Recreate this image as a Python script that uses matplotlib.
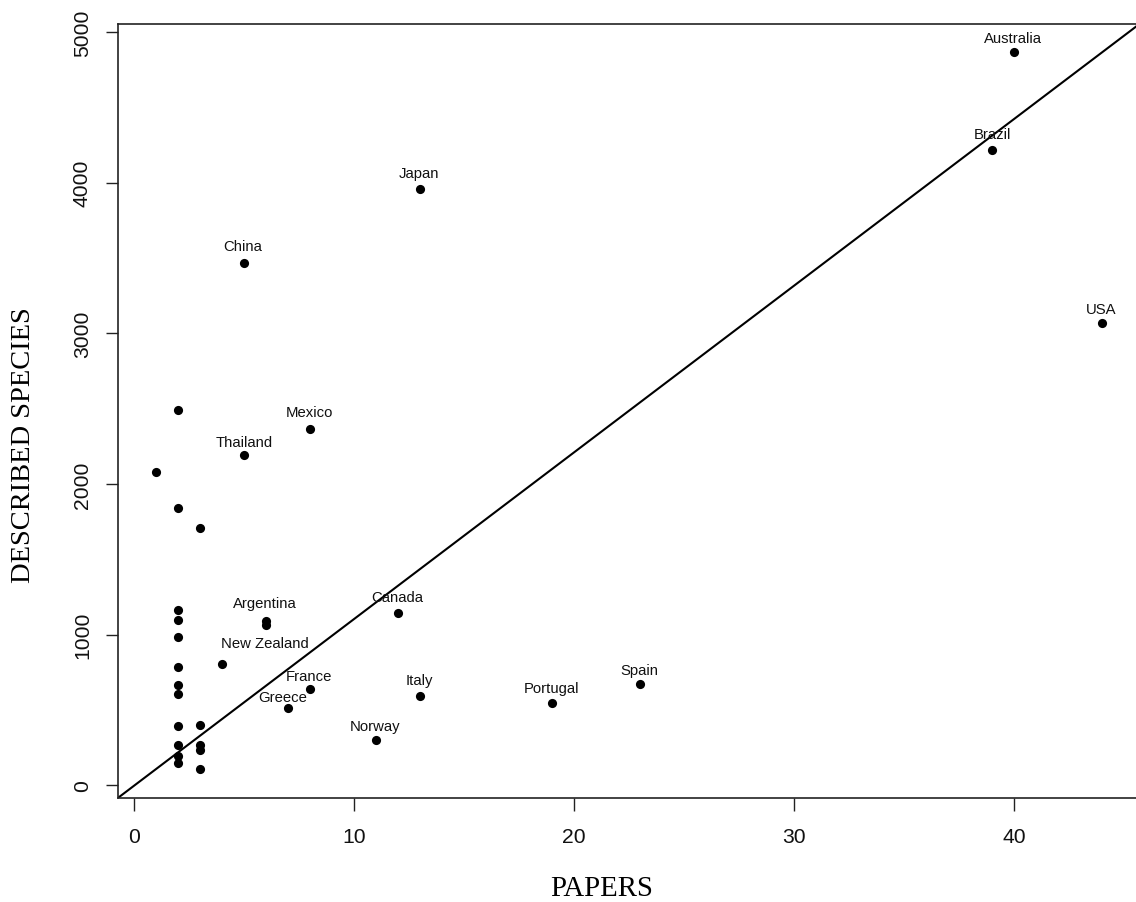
import matplotlib
matplotlib.use("Agg")
import matplotlib.pyplot as plt

# Data: papers vs described species per country
countries = ["Australia", "Brazil", "USA", "Japan", "China", "Mexico",
             "Thailand", "Argentina", "New Zealand", "Canada", "France",
             "Greece", "Italy", "Portugal", "Spain", "Norway"]
papers = [40, 39, 44, 13, 5, 8, 5, 6, 6, 12, 8, 7, 13, 19, 23, 11]
species = [4864, 4216, 3068, 3959, 3466, 2362, 2190, 1088, 1062, 1141,
           639, 511, 590, 546, 674, 301]

# unlabelled countries
other_papers = [2, 1, 2, 3, 2, 2, 2, 4, 2, 2, 2, 2, 3, 2, 3, 3, 2, 2, 3]
other_species = [2490, 2079, 1842, 1705, 1161, 1099, 986, 803, 787, 668,
                 604, 394, 400, 265, 265, 234, 195, 146, 106]

# reference line y = a + b*x
line_intercept = -2
line_slope = 110.6

x_ticks = [0, 10, 20, 30, 40]
y_ticks = [0, 1000, 2000, 3000, 4000, 5000]

# label offsets in pixels (dx, dy) relative to the point
label_offset = {
    "Australia": (-1, 10), "Brazil": (0, 12), "USA": (-1, 10),
    "Japan": (-1, 12), "China": (-1, 13), "Mexico": (-1, 13),
    "Thailand": (0, 9), "Argentina": (-1, 14), "New Zealand": (-1, -22),
    "Canada": (-1, 12), "France": (-1, 9), "Greece": (-5, 7),
    "Italy": (-1, 12), "Portugal": (-1, 11), "Spain": (-1, 10),
    "Norway": (-1, 10),
}

W, H = 1136, 903
fig = plt.figure(figsize=(W / 100, H / 100), dpi=100)
# plot region in pixels: left 118.3, right 1140 (cropped), top 24.7, bottom 799
ax = fig.add_axes([118.3 / W, (H - 799) / H, (1140 - 118.3) / W, (799 - 24.7) / H])

ax.plot(papers + other_papers, species + other_species, 'o', color='black',
        markersize=6.6, markeredgewidth=0, zorder=3)
ax.axline((0, line_intercept), slope=line_slope, color='black', lw=1.5)

for name, x, y in zip(countries, papers, species):
    dx, dy = label_offset[name]
    ax.annotate(name, (x, y), xytext=(dx, dy), textcoords='offset pixels',
                ha='center', va='baseline', fontsize=10.7,
                family='Liberation Sans', color='#111111')

ax.set_xlim(-0.72, 45.72)
ax.set_ylim(-84, 5054)
ax.set_xticks(x_ticks)
ax.set_yticks(y_ticks)
ax.tick_params(direction='out', length=9, width=1, color='#222222',
               labelsize=15.2, labelcolor='#111111')
ax.tick_params(axis='x', pad=12)
ax.tick_params(axis='y', pad=10)
for lbl in ax.get_xticklabels() + ax.get_yticklabels():
    lbl.set_family('Liberation Sans')
for lbl in ax.get_yticklabels():
    lbl.set_rotation(90)
    lbl.set_va('center')

for s in ax.spines.values():
    s.set_linewidth(1.2)
    s.set_color('#222222')

fig.text(602 / W, (H - 896.5) / H, "PAPERS", ha='center', va='baseline',
         family='Liberation Serif', fontsize=20.7)
fig.text(23.5 / W, 1 - 445 / H, "DESCRIBED SPECIES", ha='center', va='center',
         rotation=90, family='Liberation Serif', fontsize=20.5)

fig.savefig("out.png", dpi=100)
